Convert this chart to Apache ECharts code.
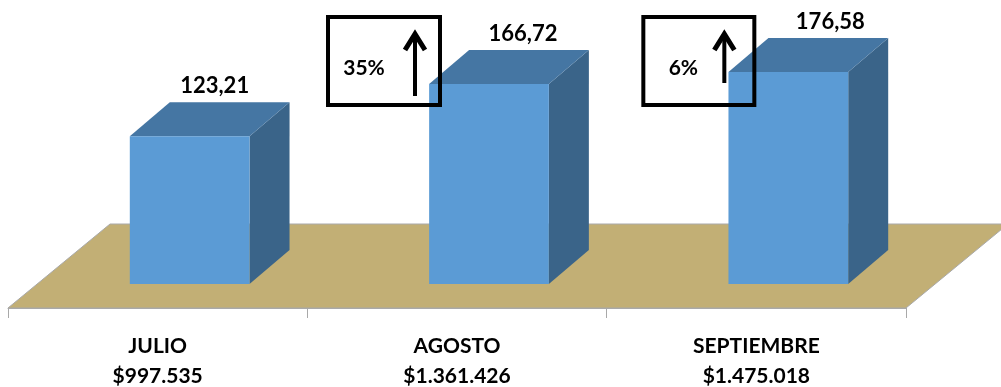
<!DOCTYPE html>
<html><head><meta charset="utf-8">
<script src="https://cdn.jsdelivr.net/npm/echarts@6/dist/echarts.min.js"></script>
<style>html,body{margin:0;padding:0;background:#fff;}#c{width:1001px;height:387px;}</style>
</head><body><div id="c"></div>
<script>
// ---- data ----
const months = ['JULIO', 'AGOSTO', 'SEPTIEMBRE'];
const amounts = ['$997.535', '$1.361.426', '$1.475.018'];
const values = [123.21, 166.72, 176.58];
const valueLabels = ['123,21', '166,72', '176,58'];
const changeLabels = ['', '35%', '6%'];

// ---- layout / style ----
const FONT = 'Lato, "Open Sans", sans-serif';
const DX = 40, DY = 34;               // bar depth projection
const FLOOR_DX = 102, FLOOR_DY = 84;  // floor depth projection
const AXIS_OFFSET = 24;
const BAR_SHIFT = 32;
const LABEL_SHIFT = [25, 34, 42];
const BOX = [null,
  {left: -129, width: 112, textX: 36, arrowX: 87, arrowBottom: 96},
  {left: -113, width: 111, textX: 40, arrowX: 81, arrowBottom: 83}];

const chart = echarts.init(document.getElementById('c'));

function floorRender(params, api) {
  const cs = params.coordSys;
  const yF = cs.y + cs.height + AXIS_OFFSET;
  const x0 = cs.x, x1 = cs.x + cs.width;
  return {
    type: 'polygon',
    shape: {points: [[x0, yF], [x1, yF], [x1 + FLOOR_DX, yF - FLOOR_DY], [x0 + FLOOR_DX, yF - FLOOR_DY]]},
    style: {fill: '#C2AF75', stroke: '#A9A9A9', lineWidth: 1}
  };
}

function barRender(params, api) {
  const idx = api.value(0);
  const top = api.coord([idx, api.value(1)]);
  const base = api.coord([idx, 0]);
  const w = api.size([1, 0])[0] * 0.4;
  const xl = top[0] + BAR_SHIFT - w / 2, xr = xl + w;
  const yt = top[1], yb = base[1];
  return {
    type: 'group',
    children: [
      {type: 'polygon', shape: {points: [[xr, yt], [xr + DX, yt - DY], [xr + DX, yb - DY], [xr, yb]]},
        style: {fill: '#3A6489'}},
      {type: 'polygon', shape: {points: [[xl, yt], [xl + DX, yt - DY], [xr + DX, yt - DY], [xr, yt]]},
        style: {fill: '#4576A3'}},
      {type: 'rect', shape: {x: xl, y: yt, width: w, height: yb - yt}, style: {fill: '#5B9BD5'}},
      {type: 'text', style: {text: valueLabels[idx], x: xl + w / 2 + LABEL_SHIFT[idx], y: yt - DY - 16,
        align: 'center', verticalAlign: 'middle', font: 'bold 22px ' + FONT, fill: '#000'}}
    ]
  };
}

function changeRender(params, api) {
  const idx = api.value(0);
  const b = BOX[idx];
  if (!b || !changeLabels[idx]) return null;
  const c = api.coord([idx, 0]);
  const x0 = c[0] + b.left;
  const yTop = 17, yBot = 105, tip = 31;
  const ax = x0 + b.arrowX;
  return {
    type: 'group',
    children: [
      {type: 'rect', shape: {x: x0, y: yTop, width: b.width, height: yBot - yTop},
        style: {fill: 'none', stroke: '#000', lineWidth: 4}},
      {type: 'text', style: {text: changeLabels[idx], x: x0 + b.textX, y: 68, align: 'center',
        verticalAlign: 'middle', font: 'bold 21px ' + FONT, fill: '#000'}},
      {type: 'line', shape: {x1: ax, y1: tip + 3, x2: ax, y2: b.arrowBottom},
        style: {stroke: '#000', lineWidth: 4}},
      {type: 'polyline', shape: {points: [[ax - 10, tip + 19], [ax, tip + 3], [ax + 10, tip + 19]]},
        style: {stroke: '#000', lineWidth: 5, fill: 'none', lineJoin: 'miter'}}
    ]
  };
}

const idxData = values.map((v, i) => [i, v]);

chart.setOption({
  animation: false,
  grid: {left: 8, right: 95, top: 44, bottom: 103, containLabel: false, outerBoundsMode: 'none'},
  xAxis: {
    type: 'category', data: months, offset: AXIS_OFFSET, z: 10,
    axisLine: {show: true, onZero: false, lineStyle: {color: '#A9A9A9', width: 1}},
    axisTick: {show: true, length: 10, lineStyle: {color: '#A9A9A9'}},
    axisLabel: {
      formatter: (v, i) => v + '\n' + amounts[i],
      fontFamily: FONT, fontWeight: 'bold', fontSize: 21, color: '#000', lineHeight: 30, margin: 23
    }
  },
  yAxis: {type: 'value', min: 0, max: 200, show: false},
  series: [
    {type: 'custom', name: 'floor', renderItem: floorRender, data: [[0, 0]], z: 1, silent: true},
    {type: 'custom', name: 'ventas', renderItem: barRender, data: idxData, z: 2},
    {type: 'custom', name: 'cambio', renderItem: changeRender, data: idxData, z: 3, silent: true}
  ]
});
</script>
</body></html>
